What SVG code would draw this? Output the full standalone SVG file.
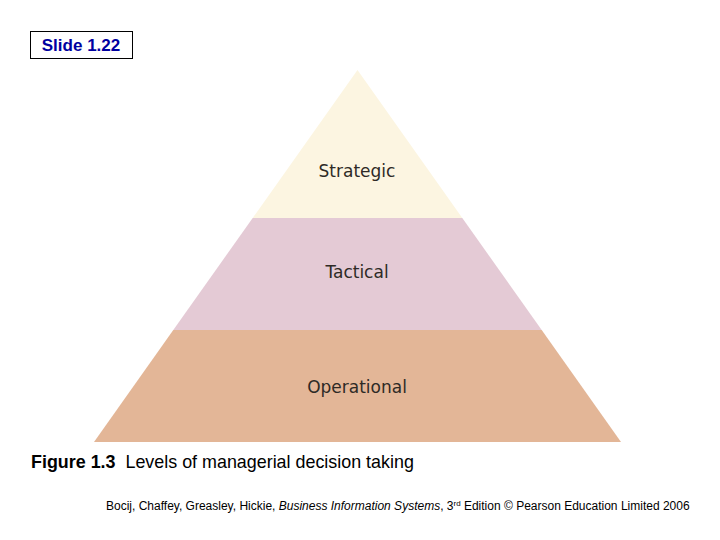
<svg xmlns="http://www.w3.org/2000/svg" width="720" height="540" viewBox="0 0 720 540">
<style>
.lbl{font-family:"DejaVu Sans","Liberation Sans",sans-serif;font-size:17px;fill:#2e2a26;text-anchor:middle}
.cap{font-family:"Liberation Sans",Arial,sans-serif;fill:#000}
</style>
<rect width="720" height="540" fill="#fff"/>
<g id="slide-label">
<rect x="30.5" y="31.5" width="102" height="27" fill="#fff" stroke="#000" stroke-width="1"/>
<text x="81" y="51" font-family="'Liberation Sans',Arial,sans-serif" font-size="17" font-weight="bold" fill="#0000A0" text-anchor="middle">Slide 1.22</text>
</g>
<g id="strategic">
<polygon points="357.5,70 462.3,218 252.7,218" fill="#FCF5E1"/>
<text class="lbl" x="357" y="177">Strategic</text>
</g>
<g id="tactical">
<polygon points="252.7,218 462.3,218 541.7,330 173.3,330" fill="#E4CAD5"/>
<text class="lbl" x="357" y="278">Tactical</text>
</g>
<g id="operational">
<polygon points="173.3,330 541.7,330 621,442 94,442" fill="#E3B697"/>
<text class="lbl" x="357" y="393">Operational</text>
</g>
<g id="connectors"/>
<text class="cap" x="31" y="468" font-size="17.9" xml:space="preserve"><tspan font-weight="bold">Figure 1.3</tspan>  Levels of managerial decision taking</text>
<text class="cap" x="106" y="510" font-size="12">Bocij, Chaffey, Greasley, Hickie, <tspan font-style="italic">Business Information Systems</tspan>, 3<tspan font-size="8" dy="-4">rd</tspan><tspan dy="4"> Edition © Pearson Education Limited 2006</tspan></text>
</svg>
